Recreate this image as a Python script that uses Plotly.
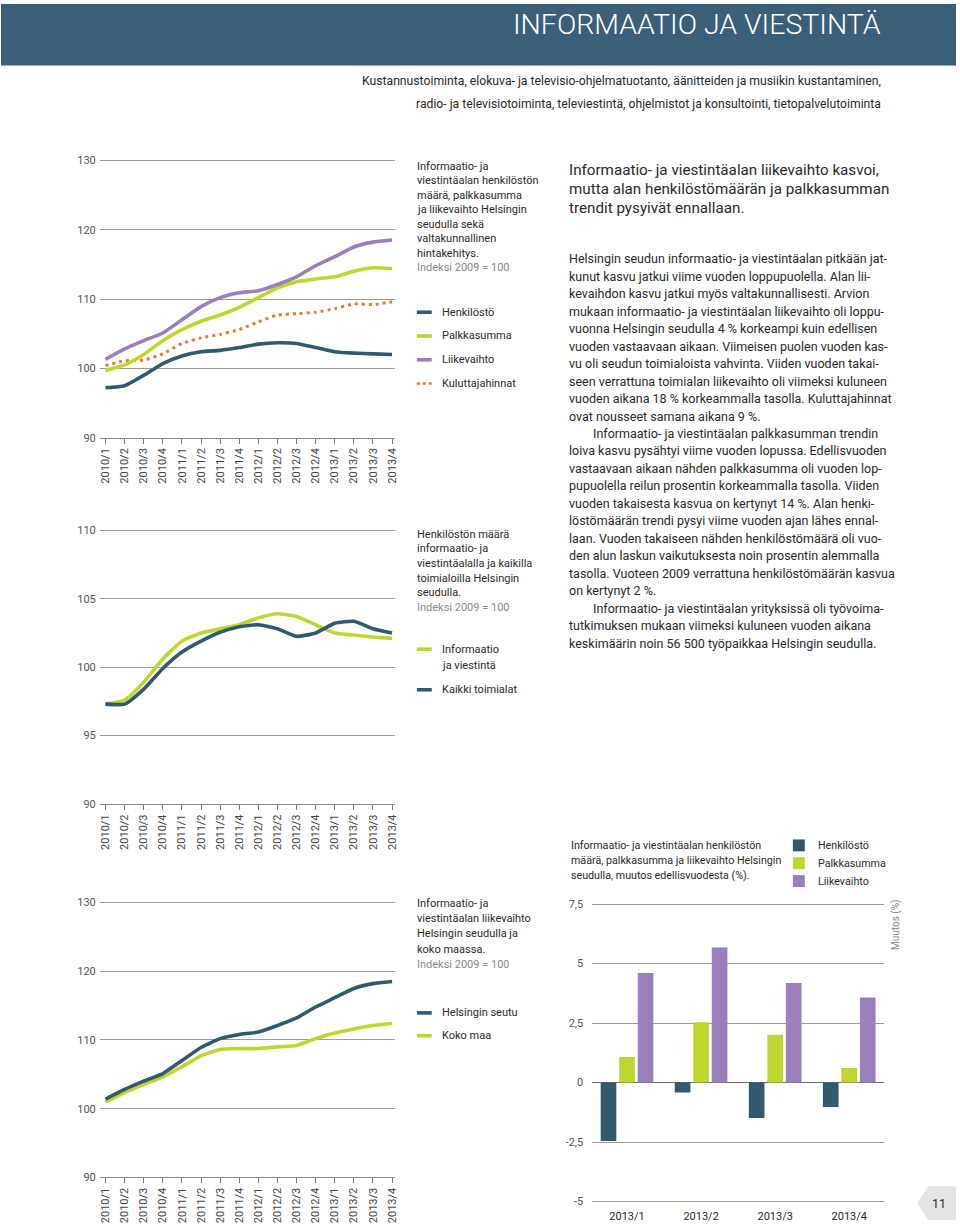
import plotly.graph_objects as go

W, H = 960, 1227

# ---------------- DATA ----------------
quarters = ["2010/1", "2010/2", "2010/3", "2010/4", "2011/1", "2011/2", "2011/3", "2011/4",
            "2012/1", "2012/2", "2012/3", "2012/4", "2013/1", "2013/2", "2013/3", "2013/4"]

# Chart 1: Index 2009 = 100
henkilosto = [97.2, 97.5, 99.0, 100.7, 101.8, 102.4, 102.6, 103.0,
              103.5, 103.7, 103.6, 103.0, 102.4, 102.2, 102.1, 102.0]
palkkasumma = [99.7, 100.5, 102.0, 104.0, 105.6, 106.8, 107.7, 108.8,
               110.2, 111.6, 112.5, 112.9, 113.2, 114.0, 114.5, 114.4]
liikevaihto = [101.3, 102.8, 104.0, 105.1, 107.0, 108.9, 110.2, 110.9,
               111.2, 112.1, 113.2, 114.8, 116.1, 117.5, 118.2, 118.5]
kuluttajahinnat = [100.4, 101.1, 101.2, 102.1, 103.6, 104.4, 104.9, 105.6,
                   106.7, 107.7, 107.9, 108.1, 108.6, 109.3, 109.2, 109.6]

# Chart 2: Henkilöstön määrä
info_viestinta = [97.3, 97.6, 98.9, 100.6, 101.9, 102.5, 102.8, 103.1,
                  103.6, 103.9, 103.7, 103.1, 102.5, 102.35, 102.2, 102.1]
kaikki_toimialat = [97.3, 97.3, 98.4, 99.9, 101.1, 101.9, 102.55, 102.95,
                    103.1, 102.8, 102.25, 102.5, 103.2, 103.35, 102.8, 102.5]

# Chart 3: Liikevaihto
helsingin_seutu = [101.4, 102.8, 104.0, 105.1, 107.0, 108.9, 110.2, 110.8,
                   111.15, 112.1, 113.2, 114.8, 116.15, 117.5, 118.2, 118.5]
koko_maa = [101.0, 102.35, 103.55, 104.6, 106.1, 107.7, 108.6, 108.75,
            108.75, 109.0, 109.2, 110.2, 111.0, 111.6, 112.1, 112.4]

# Chart 4: muutos edellisvuodesta (%)
bar_quarters = ["2013/1", "2013/2", "2013/3", "2013/4"]
bar_henkilosto = [-2.46, -0.42, -1.49, -1.03]
bar_palkkasumma = [1.07, 2.53, 2.01, 0.61]
bar_liikevaihto = [4.61, 5.68, 4.19, 3.58]
bar_yticks = [-5, -2.5, 0, 2.5, 5, 7.5]
bar_yticktext = ["-5", "-2,5", "0", "2,5", "5", "7,5"]

# ---------------- STYLE ----------------
FONT = "Roboto, Liberation Sans, sans-serif"
C_BLUE = "#33596f"
C_GREEN = "#c0d62f"
C_PURPLE = "#9a7fbc"
C_ORANGE = "#e27b35"
C_GRID = "#9c9c9c"
C_TXT = "#2a2a2a"
C_GRAY = "#8a8a8a"
C_HEAD = "#3c5f79"


def px(x):
    return x / W


def py(y):
    return 1 - y / H


fig = go.Figure()

LW = 3.6


def line(x, y, color, axis, dash=None, width=LW):
    fig.add_trace(go.Scatter(
        x=x, y=y, mode="lines", xaxis="x" + axis, yaxis="y" + axis,
        line=dict(color=color, width=width, dash=dash, shape="spline", smoothing=0.5),
        hoverinfo="x+y", showlegend=False))


# Chart 1
line(quarters, kuluttajahinnat, C_ORANGE, "", dash="3px,4px", width=3)
line(quarters, henkilosto, C_BLUE, "")
line(quarters, palkkasumma, C_GREEN, "")
line(quarters, liikevaihto, C_PURPLE, "")
# Chart 2
line(quarters, info_viestinta, C_GREEN, "2")
line(quarters, kaikki_toimialat, C_BLUE, "2")
# Chart 3
line(quarters, koko_maa, C_GREEN, "3")
line(quarters, helsingin_seutu, C_BLUE, "3")
# Chart 4 bars
for vals, col, nm in [(bar_henkilosto, C_BLUE, "Henkilöstö"),
                      (bar_palkkasumma, C_GREEN, "Palkkasumma"),
                      (bar_liikevaihto, C_PURPLE, "Liikevaihto")]:
    fig.add_trace(go.Bar(x=bar_quarters, y=vals, name=nm, marker=dict(color=col, line=dict(width=0)),
                         xaxis="x4", yaxis="y4", showlegend=False))

XL, XR = px(99.3), px(396)
PAD = 2.0  # px of head-room so the top gridline is not clipped


def ydom(lo, hi, lo_px, hi_px, pad_lo=0.0, pad_hi=PAD):
    upp = (hi - lo) / (lo_px - hi_px)
    return [py(lo_px + pad_lo), py(hi_px - pad_hi)], [lo - pad_lo * upp, hi + pad_hi * upp]


def xaxis_line(anchor):
    return dict(domain=[XL, XR], anchor=anchor, type="category", range=[-0.3, 15.15],
                tickmode="array", tickvals=quarters, ticktext=quarters,
                tickangle=-90, ticks="outside", ticklen=5, tickwidth=1, tickcolor="#7a7a7a",
                showline=True, linecolor="#8a8a8a", linewidth=1, showgrid=False, zeroline=False,
                tickfont=dict(family=FONT, size=11, color="#444"), fixedrange=True)


def yaxis_line(anchor, lo, hi, lo_px, hi_px, dtick):
    dom, rng = ydom(lo, hi, lo_px, hi_px)
    return dict(domain=dom, anchor=anchor, range=rng, dtick=dtick, tick0=lo,
                showgrid=True, gridcolor=C_GRID, gridwidth=1, zeroline=False, showline=False,
                ticks="", ticklabelstandoff=3,
                tickfont=dict(family=FONT, size=11, color="#555"), fixedrange=True)


dom4, rng4 = ydom(-5, 7.5, 1208.3, 908.3, pad_lo=PAD)

layout = dict(
    width=W, height=H, margin=dict(l=0, r=0, t=0, b=0, pad=0),
    paper_bgcolor="white", plot_bgcolor="rgba(0,0,0,0)", showlegend=False,
    barmode="group", bargap=0.25, bargroupgap=0.156,
    font=dict(family=FONT, color=C_TXT),
    xaxis=xaxis_line("y"),
    yaxis=yaxis_line("x", 90, 130, 437.7, 157.7, 10),
    xaxis2=xaxis_line("y2"),
    yaxis2=yaxis_line("x2", 90, 110, 807.3, 531, 5),
    xaxis3=xaxis_line("y3"),
    yaxis3=yaxis_line("x3", 90, 130, 1184, 906.7, 10),
    xaxis4=dict(domain=[px(594.3), px(887.3)], anchor="y4", type="category", range=[-0.47, 3.465],
                ticks="", showline=False, showgrid=False, zeroline=False, ticklabelstandoff=5,
                tickfont=dict(family=FONT, size=11, color=C_TXT), fixedrange=True),
    yaxis4=dict(domain=dom4, anchor="x4", range=rng4,
                tickmode="array", tickvals=bar_yticks, ticktext=bar_yticktext,
                showgrid=True, gridcolor=C_GRID, gridwidth=1, zeroline=True, zerolinecolor="#6a6a6a",
                zerolinewidth=1, ticks="", ticklabelstandoff=8,
                tickfont=dict(family=FONT, size=11, color="#555"), fixedrange=True),
)
fig.update_layout(**layout)

shapes = []
annotations = []


def ann(text, x, y, size=12, color=C_TXT, xanchor="left", weight=None, **kw):
    f = dict(family=FONT, size=size, color=color)
    if weight:
        f["weight"] = weight
    annotations.append(dict(text=text, x=px(x), y=py(y), xref="paper", yref="paper",
                            xanchor=xanchor, yanchor="middle", showarrow=False, font=f, **kw))


# Header band
shapes.append(dict(type="rect", xref="paper", yref="paper", x0=0, x1=1, y0=py(62), y1=1,
                   fillcolor=C_HEAD, line=dict(width=0), layer="below"))
ann("INFORMAATIO JA VIESTINTÄ", 887, 21, size=28.5, color="white", xanchor="right", weight=300)
ann("Kustannustoiminta, elokuva- ja televisio-ohjelmatuotanto, äänitteiden ja musiikin kustantaminen,",
    887, 78, size=12.2, xanchor="right")
ann("radio- ja televisiotoiminta, televiestintä, ohjelmistot ja konsultointi, tietopalvelutoiminta",
    887, 101, size=12.2, xanchor="right")


def text_block(lines, x, y0, dy, size=11, last_gray=True):
    for i, t in enumerate(lines):
        gray = last_gray and i == len(lines) - 1
        ann(t, x, y0 + i * dy, size=size, color=C_GRAY if gray else C_TXT)


def legend_line(x, y, color, label, dash=None, width=3.6):
    shapes.append(dict(type="line", xref="paper", yref="paper", x0=px(x), x1=px(x + 15),
                       y0=py(y), y1=py(y), line=dict(color=color, width=width, dash=dash)))
    ann(label, x + 23, y, size=11)


# Chart 1 description + legend
text_block(["Informaatio- ja", "viestintäalan henkilöstön", "määrä, palkkasumma",
            "ja liikevaihto Helsingin", "seudulla sekä", "valtakunnallinen", "hintakehitys.",
            "Indeksi 2009 = 100"], 416, 164, 14.6)
legend_line(418, 311, C_BLUE, "Henkilöstö")
legend_line(418, 335, C_GREEN, "Palkkasumma")
legend_line(418, 359, C_PURPLE, "Liikevaihto")
legend_line(418, 383, C_ORANGE, "Kuluttajahinnat", dash="dot", width=2.5)

# Chart 2 description + legend
text_block(["Henkilöstön määrä", "informaatio- ja", "viestintäalalla ja kaikilla",
            "toimialoilla Helsingin", "seudulla.", "Indeksi 2009 = 100"], 416, 535, 14.8)
legend_line(418, 651, C_GREEN, "Informaatio")
ann("ja viestintä", 441, 667, size=11)
legend_line(418, 692, C_BLUE, "Kaikki toimialat")

# Chart 3 description + legend
text_block(["Informaatio- ja", "viestintäalan liikevaihto", "Helsingin seudulla ja",
            "koko maassa.", "Indeksi 2009 = 100"], 416, 908, 15.2)
legend_line(418, 1018, C_BLUE, "Helsingin seutu")
legend_line(418, 1041, C_GREEN, "Koko maa")

# Chart 4 title + legend
text_block(["Informaatio- ja viestintäalan henkilöstön", "määrä, palkkasumma ja liikevaihto Helsingin",
            "seudulla, muutos edellisvuodesta (%)."], 571, 849, 15, size=10.7, last_gray=False)
for yy, col, lab in [(849, C_BLUE, "Henkilöstö"), (867, C_GREEN, "Palkkasumma"), (885, C_PURPLE, "Liikevaihto")]:
    shapes.append(dict(type="rect", xref="paper", yref="paper", x0=px(796), x1=px(808),
                       y0=py(yy + 6), y1=py(yy - 6), fillcolor=col, line=dict(width=0)))
    ann(lab, 819, yy, size=10.7)
ann("Muutos (%)", 899, 929, size=10, color="#888", xanchor="center", textangle=-90)

# Right column text
heading = ["Informaatio- ja viestintäalan liikevaihto kasvoi,",
           "mutta alan henkilöstömäärän ja palkkasumman",
           "trendit pysyivät ennallaan."]
for i, t in enumerate(heading):
    ann(t, 569, 167 + i * 19.5, size=15.2)

body = [
    ("Helsingin seudun informaatio- ja viestintäalan pitkään jat-", 0),
    ("kunut kasvu jatkui viime vuoden loppupuolella. Alan lii-", 0),
    ("kevaihdon kasvu jatkui myös valtakunnallisesti. Arvion", 0),
    ("mukaan informaatio- ja viestintäalan liikevaihto oli loppu-", 0),
    ("vuonna Helsingin seudulla 4 % korkeampi kuin edellisen", 0),
    ("vuoden vastaavaan aikaan. Viimeisen puolen vuoden kas-", 0),
    ("vu oli seudun toimialoista vahvinta. Viiden vuoden takai-", 0),
    ("seen verrattuna toimialan liikevaihto oli viimeksi kuluneen", 0),
    ("vuoden aikana 18 % korkeammalla tasolla. Kuluttajahinnat", 0),
    ("ovat nousseet samana aikana 9 %.", 0),
    ("Informaatio- ja viestintäalan palkkasumman trendin", 1),
    ("loiva kasvu pysähtyi viime vuoden lopussa. Edellisvuoden", 0),
    ("vastaavaan aikaan nähden palkkasumma oli vuoden lop-", 0),
    ("pupuolella reilun prosentin korkeammalla tasolla. Viiden", 0),
    ("vuoden takaisesta kasvua on kertynyt 14 %. Alan henki-", 0),
    ("löstömäärän trendi pysyi viime vuoden ajan lähes ennal-", 0),
    ("laan. Vuoden takaiseen nähden henkilöstömäärä oli vuo-", 0),
    ("den alun laskun vaikutuksesta noin prosentin alemmalla", 0),
    ("tasolla. Vuoteen 2009 verrattuna henkilöstömäärän kasvua", 0),
    ("on kertynyt 2 %.", 0),
    ("Informaatio- ja viestintäalan yrityksissä oli työvoima-", 1),
    ("tutkimuksen mukaan viimeksi kuluneen vuoden aikana", 0),
    ("keskimäärin noin 56 500 työpaikkaa Helsingin seudulla.", 0),
]
for i, (t, ind) in enumerate(body):
    ann(t, 569 + ind * 24, 257 + i * 17.64, size=12.5)

# Page number tab
tab = [(932, 1193), (960, 1193), (960, 1227), (932, 1227), (921, 1210)]
path = "M " + " L ".join(f"{px(a):.5f},{py(b):.5f}" for a, b in tab) + " Z"
shapes.append(dict(type="path", xref="paper", yref="paper", path=path, fillcolor="#e4e4e4",
                   line=dict(width=0)))
ann("11", 943, 1210, size=12.5, xanchor="center")

fig.update_layout(shapes=shapes, annotations=annotations)

fig.write_html("out.html", config={"displayModeBar": False},
               post_script="document.body.style.margin='0';")
